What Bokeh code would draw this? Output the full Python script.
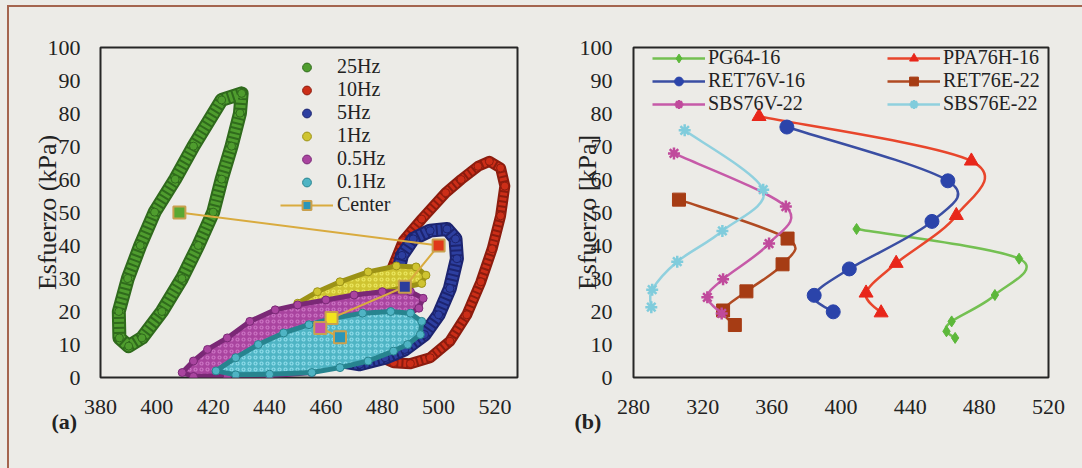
import numpy as np
from bokeh.plotting import figure
from bokeh.models import Range1d, FixedTicker, Legend, LegendItem, Title, ColumnDataSource
from bokeh.layouts import row
from bokeh.embed import file_html
from bokeh.resources import INLINE

# ---------------- Panel (a): hysteresis loops (outline points) ----------------
freq_labels = ["25Hz", "10Hz", "5Hz", "1Hz", "0.5Hz", "0.1Hz"]

loop_25hz_x = [430.1, 423.0, 413.0, 406.5, 399.2, 394.1, 389.7, 386.5, 386.7, 390.0,
               394.7, 401.8, 408.9, 414.7, 420.0, 423.0, 426.5, 429.5]
loop_25hz_y = [86.1, 84.1, 70.1, 60.1, 50.1, 40.0, 30.0, 20.0, 12.0, 9.5,
               12.0, 20.0, 30.0, 40.0, 50.1, 60.1, 70.1, 80.1]

loop_10hz_x = [477.5, 484, 490, 497, 504, 510, 515, 519, 522, 523.5,
               522, 518, 514, 508, 502.5, 494, 487.5, 483, 479.5, 477.5]
loop_10hz_y = [7, 4.5, 4.2, 6, 11, 19, 29, 39, 49, 58,
               63.5, 65.5, 64, 60, 56, 48, 41.5, 32, 20, 12]

loop_5hz_x = [465, 472, 481, 488, 495, 500, 504, 506.5, 506, 503, 497, 491, 487, 485, 481, 474]
loop_5hz_y = [5, 4, 6, 8.5, 13, 19, 27, 36, 42, 45, 44.5, 42, 37, 30, 21, 11]

loop_1hz_x = [450, 457, 465, 475, 485, 492, 495.5, 494, 489, 470, 458]
loop_1hz_y = [22.5, 26, 29, 32, 33.8, 33.5, 31, 28.5, 27.5, 24, 21.5]

loop_05hz_x = [409, 413, 418, 425, 433, 442, 450, 460, 470, 480, 490, 494.5, 493,
               485, 475, 465, 455, 440, 425, 413]
loop_05hz_y = [1.5, 5, 8.5, 12, 17, 20.5, 22, 23.5, 25, 26, 26, 24, 21,
               17, 11, 5, 1.5, 0.5, 0.5, 0.3]

loop_01hz_x = [421, 428, 436, 445, 454, 463, 473, 483, 490, 494, 493.5, 489,
               484, 475, 465, 455, 440, 428]
loop_01hz_y = [2, 6, 10, 13.5, 16, 18, 19.5, 20, 19.5, 17, 13, 10,
               8, 5, 3, 1.5, 1, 0.8]

center_x = [408, 500, 488, 462, 458, 465]
center_y = [50, 40, 27.5, 18, 15, 12.2]

# ---------------- Panel (b): materials ----------------
materials = ["PG64-16", "PPA76H-16", "RET76V-16", "RET76E-22", "SBS76V-22", "SBS76E-22"]
pg64_x = [409, 503, 489, 464, 461, 466]
pg64_y = [45, 36, 25, 17, 14, 12]
ppa76h_x = [352.6, 475.4, 466.7, 431.9, 414.5, 423.2]
ppa76h_y = [79.1, 65.6, 49.1, 34.6, 25.6, 19.6]
ret76v_x = [368.7, 461.8, 452.6, 404.8, 384.5, 395.5]
ret76v_y = [75.9, 59.6, 47.3, 32.9, 24.9, 19.9]
ret76e_x = [306.3, 369.1, 366.2, 345.3, 331.8, 338.6]
ret76e_y = [53.9, 42.1, 34.3, 26.1, 20.3, 15.9]
sbs76v_x = [303.4, 368.1, 358.4, 331.8, 322.7, 331.0]
sbs76v_y = [67.9, 51.8, 40.6, 29.8, 24.3, 19.4]
sbs76e_x = [309.6, 355.0, 331.4, 305.3, 290.8, 290.3]
sbs76e_y = [74.9, 56.9, 44.4, 35.1, 26.6, 21.3]

x_ticks_a = [380, 400, 420, 440, 460, 480, 500, 520]
x_ticks_b = [280, 320, 360, 400, 440, 480, 520]
y_ticks = [0, 10, 20, 30, 40, 50, 60, 70, 80, 90, 100]

# ---------------- styles ----------------
BG = "#ecebe7"
BORDER = "#a4654f"
FONT = "Liberation Serif"
TXT = "#222222"


def base_fig(xr, yr, ml, mr, mt, mb, ylabel, label_standoff, tag, tag_offset, tag_standoff):
    p = figure(width=541, height=468, x_range=Range1d(*xr), y_range=Range1d(*yr),
               output_backend="svg", toolbar_location=None,
               min_border_left=ml, min_border_right=mr, min_border_top=mt, min_border_bottom=mb)
    p.background_fill_alpha = 0
    p.border_fill_alpha = 0
    p.outline_line_color = "#262626"
    p.outline_line_width = 2
    p.xgrid.visible = False
    p.ygrid.visible = False
    for ax in (p.xaxis[0], p.yaxis[0]):
        ax.axis_line_color = None
        ax.major_tick_line_color = None
        ax.minor_tick_line_color = None
        ax.major_tick_out = 0
        ax.major_tick_in = 0
        ax.minor_tick_out = 0
        ax.minor_tick_in = 0
        ax.major_label_text_font = FONT
        ax.major_label_text_font_size = "22px"
        ax.major_label_text_color = TXT
    ya = p.yaxis[0]
    ya.axis_label = ylabel
    ya.axis_label_text_font = FONT
    ya.axis_label_text_font_size = "26px"
    ya.axis_label_text_font_style = "normal"
    ya.axis_label_text_color = TXT
    ya.axis_label_standoff = label_standoff
    p.add_layout(Title(text=tag, align="left", offset=tag_offset, standoff=tag_standoff,
                       text_font=FONT, text_font_size="22px", text_font_style="bold",
                       text_color=TXT), "below")
    return p


# ================= Panel (a) =================
p1 = base_fig((380, 528), (0, 100), 100, 24, 47, 88, "Esfuerzo (kPa)", -17, "(a)", -49, -20)
p1.xaxis.ticker = FixedTicker(ticks=x_ticks_a)
p1.yaxis.ticker = FixedTicker(ticks=y_ticks)
p1.xaxis.major_label_standoff = 22
p1.yaxis.major_label_standoff = 20

loops = [
    (loop_25hz_x, loop_25hz_y, "band", "#2f6a1c", "#4f9d2e", "#7cc44c", 14),
    (loop_10hz_x, loop_10hz_y, "band", "#8c1c0e", "#cc2e18", "#e8583a", 11),
    (loop_5hz_x, loop_5hz_y, "band", "#1c2470", "#2d3fa0", "#5063c4", 14),
    (loop_1hz_x, loop_1hz_y, "blob", "#9c9216", "#cfc431", "#ece85e", 0),
    (loop_05hz_x, loop_05hz_y, "blob", "#7a2876", "#a9449f", "#cc74c4", 0),
    (loop_01hz_x, loop_01hz_y, "blob", "#27848f", "#4fb4c4", "#8edcea", 0),
]
legend_a = []
for (xs, ys, kind, dark, main, light, w), lab in zip(loops, freq_labels):
    if kind == "band":
        p1.patch(xs, ys, fill_alpha=0, line_color=dark, line_width=w, line_join="round")
        p1.patch(xs, ys, fill_alpha=0, line_color=main, line_width=w - 4,
                 line_dash="3 2", line_join="round")
    else:
        p1.patch(xs, ys, fill_color=main, line_color=dark, line_width=5, line_join="round",
                 hatch_pattern="ring", hatch_color=light, hatch_scale=6, hatch_weight=1.2)
    r = p1.scatter(xs, ys, marker="circle", size=8, fill_color=main, line_color=dark, line_width=1)
    legend_a.append(LegendItem(label=lab, renderers=[r]))

center_fill = ["#5aa832", "#e0381a", "#2c3c9c", "#f2e41e", "#c452ac", "#2a96b8"]
csrc = ColumnDataSource(dict(x=center_x, y=center_y, c=center_fill))
cl = p1.line("x", "y", source=csrc, line_color="#d9ab3f", line_width=2)
cs = p1.scatter("x", "y", source=csrc, marker="square", size=12, fill_color="c",
                line_color="#c9a04e", line_width=2)
legend_a.append(LegendItem(label="Center", renderers=[cl, cs], index=5))

leg_a = Legend(items=legend_a, location=(180, 161), glyph_width=53, glyph_height=22,
               label_height=22, label_standoff=4, padding=0, spacing=0, margin=0,
               border_line_color=None, background_fill_alpha=0,
               label_text_font=FONT, label_text_font_size="20px", label_text_color=TXT)
p1.add_layout(leg_a)

p1.styles = {"background": f"linear-gradient({BORDER},{BORDER}) 7px 5px / 534px 2px no-repeat, "
                           f"linear-gradient({BORDER},{BORDER}) 7px 5px / 2px 463px no-repeat, {BG}"}


# ================= Panel (b) =================
def smooth(xs, ys):
    n = len(xs)
    d = dict(x0=[], y0=[], x1=[], y1=[], cx0=[], cy0=[], cx1=[], cy1=[])
    for i in range(n - 1):
        im = max(i - 1, 0)
        ip = min(i + 2, n - 1)
        d["x0"].append(xs[i]); d["y0"].append(ys[i])
        d["x1"].append(xs[i + 1]); d["y1"].append(ys[i + 1])
        d["cx0"].append(xs[i] + (xs[i + 1] - xs[im]) / 6)
        d["cy0"].append(ys[i] + (ys[i + 1] - ys[im]) / 6)
        d["cx1"].append(xs[i + 1] - (xs[ip] - xs[i]) / 6)
        d["cy1"].append(ys[i + 1] - (ys[ip] - ys[i]) / 6)
    return ColumnDataSource(d)


p2 = base_fig((280, 520), (0, 100), 92, 34, 43, 91, "Esfuerzo [kPa]", -25, "(b)", -59, -20)
p2.xaxis.ticker = FixedTicker(ticks=x_ticks_b)
p2.yaxis.ticker = FixedTicker(ticks=y_ticks)
p2.xaxis.major_label_standoff = 22
p2.yaxis.major_label_standoff = 21

series_b = [
    (pg64_x, pg64_y, "#74c052", "#5cb83a", "diamond", 11),
    (ppa76h_x, ppa76h_y, "#e8462c", "#e8261a", "triangle", 14),
    (ret76v_x, ret76v_y, "#3a4ea3", "#2b44aa", "circle", 14),
    (ret76e_x, ret76e_y, "#b04a22", "#a63c14", "square", 13),
    (sbs76v_x, sbs76v_y, "#c65aa8", "#c04a9c", "asterisk", 12),
    (sbs76e_x, sbs76e_y, "#90d0de", "#80ccdc", "asterisk", 12),
]
items_b = []
for (xs, ys, lc, mc, mk, sz), name in zip(series_b, materials):
    rl = p2.bezier(x0="x0", y0="y0", x1="x1", y1="y1", cx0="cx0", cy0="cy0",
                   cx1="cx1", cy1="cy1", source=smooth(xs, ys), line_color=lc, line_width=2.5)
    if mk == "asterisk":
        rm = p2.scatter(xs, ys, marker=mk, size=sz, line_color=mc, line_width=2.5)
    else:
        rm = p2.scatter(xs, ys, marker=mk, size=sz, fill_color=mc, line_color=mc)
    items_b.append(LegendItem(label=name, renderers=[rl, rm]))

leg_cfg = dict(glyph_width=53, glyph_height=22, label_height=22, label_standoff=3,
               padding=0, spacing=0, margin=0, border_line_color=None, background_fill_alpha=0,
               label_text_font=FONT, label_text_font_size="20px", label_text_color=TXT)
leg_b1 = Legend(items=[items_b[0], items_b[2], items_b[4]], location=(19, 262), **leg_cfg)
leg_b2 = Legend(items=[items_b[1], items_b[3], items_b[5]], location=(254, 262), **leg_cfg)
p2.add_layout(leg_b1)
p2.add_layout(leg_b2)

p2.styles = {"background": f"linear-gradient({BORDER},{BORDER}) 0px 5px / 541px 2px no-repeat, {BG}"}

layout = row(p1, p2)
open("out.html", "w").write(file_html(layout, INLINE))
